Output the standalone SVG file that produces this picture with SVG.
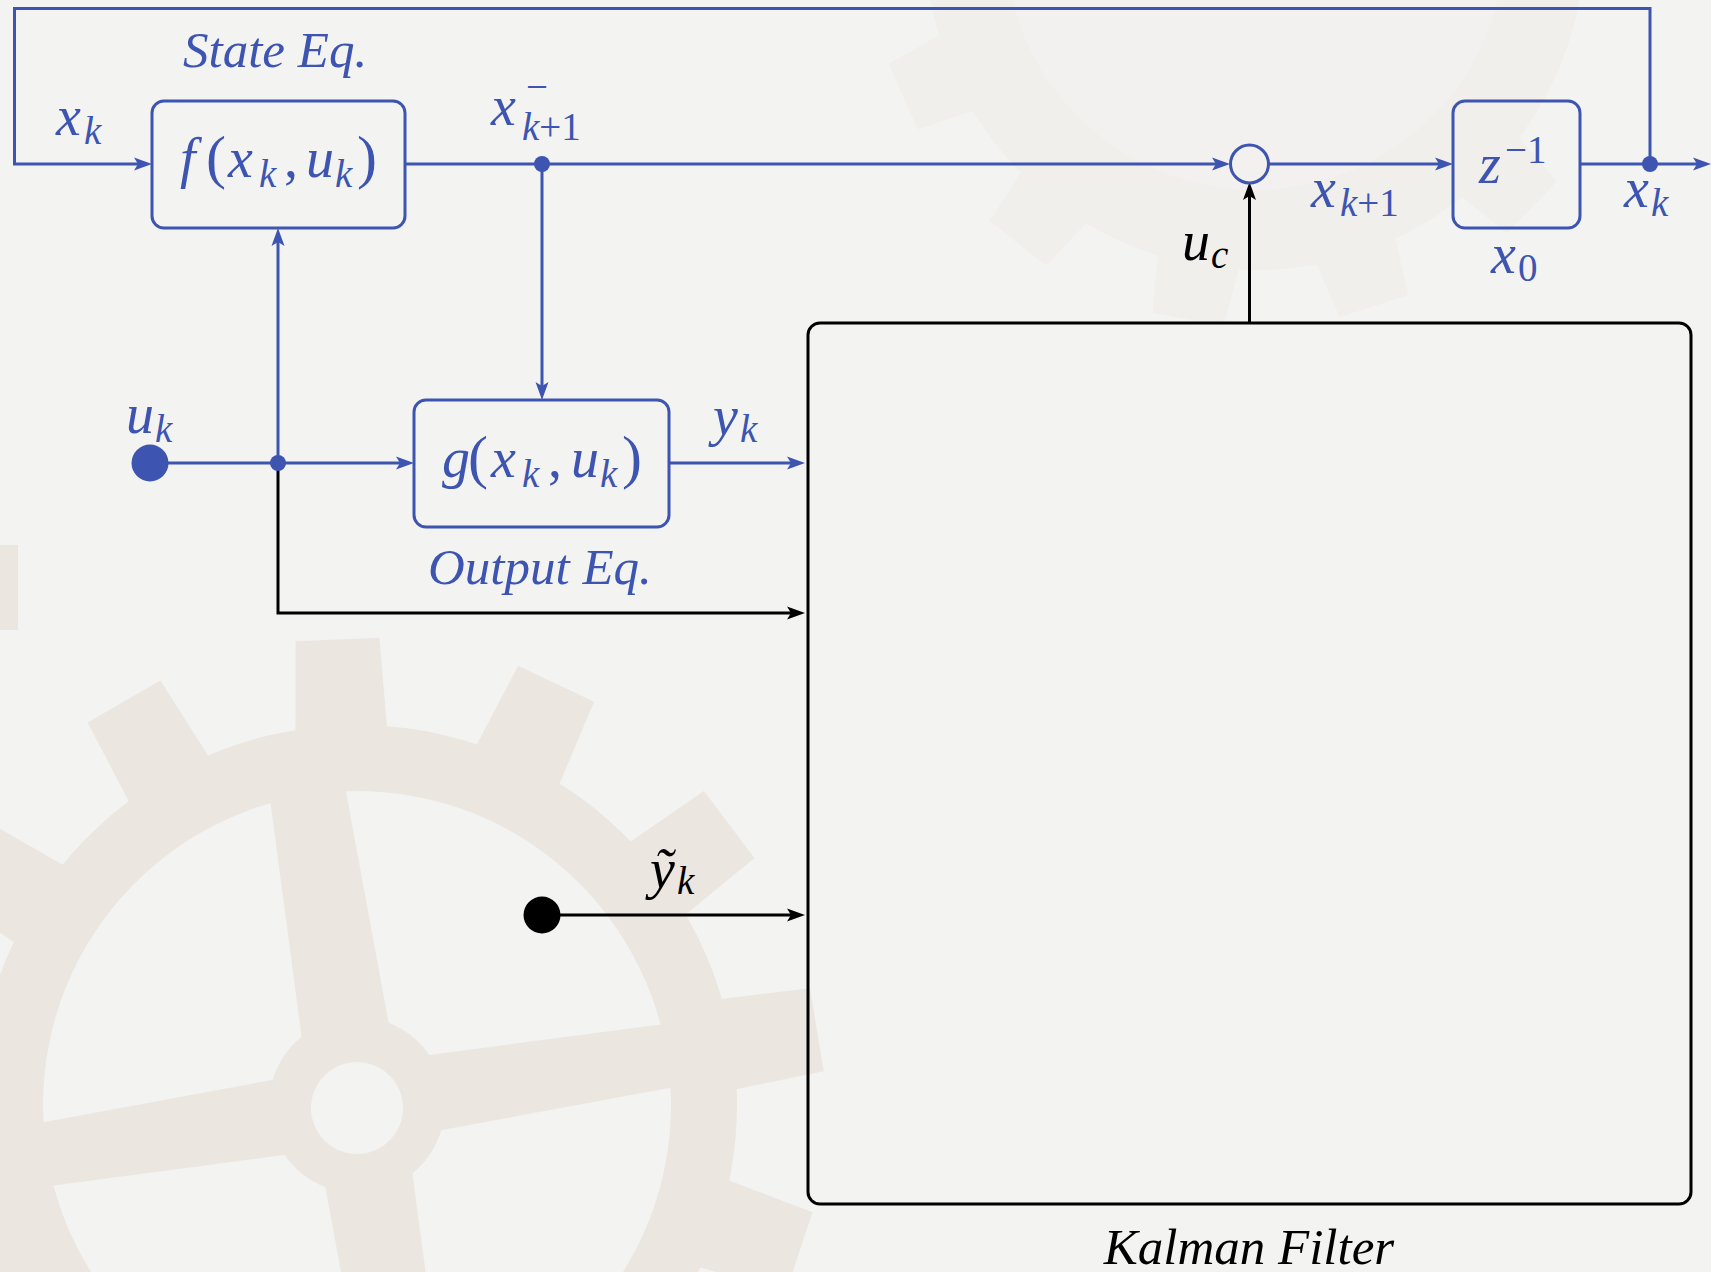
<svg xmlns="http://www.w3.org/2000/svg" width="1711" height="1272" viewBox="0 0 1711 1272">
<style>
.bl{stroke:#3d55b0;stroke-width:3;fill:none}
.bk{stroke:#000;stroke-width:3;fill:none}
.box{stroke:#3d55b0;stroke-width:3;fill:none}
.m{font-family:"Liberation Serif","DejaVu Serif",serif;font-style:italic;font-size:56px;fill:#3d55b0}
.mk{fill:#000}
.up{font-style:normal}
.sub{font-size:39px}
.par{font-style:normal;font-size:60px}
.lbl{font-family:"Liberation Serif","DejaVu Serif",serif;font-style:italic;font-size:51px;fill:#3d55b0}
.gear{fill:#ebe7e0}
.gear2{fill:#f0efeb}
</style>
<defs>
<marker id="ab" markerUnits="userSpaceOnUse" markerWidth="24" markerHeight="16" viewBox="-12 -8 24 16" refX="0" refY="0" orient="auto" overflow="visible"><path d="M9,0 L-9,-6.5 L-5,0 L-9,6.5 Z" fill="#3d55b0"/></marker>
<marker id="ak" markerUnits="userSpaceOnUse" markerWidth="24" markerHeight="16" viewBox="-12 -8 24 16" refX="0" refY="0" orient="auto" overflow="visible"><path d="M9,0 L-9,-6.5 L-5,0 L-9,6.5 Z" fill="#000"/></marker>
<polygon id="tooth" points="-46,-372 -42,-466 42,-466 46,-372"/>
<polygon id="tooth2" points="-42,-320 -36,-385 36,-385 42,-320"/>
</defs>
<rect x="0" y="0" width="1711" height="1272" fill="#f3f3f2"/>
<g id="watermark">
<g class="gear" transform="translate(357,1105) rotate(-9)">
<path d="M0,-380 A380,380 0 1,1 0,380 A380,380 0 1,1 0,-380 Z M0,-314 A314,314 0 1,0 0,314 A314,314 0 1,0 0,-314 Z" fill-rule="evenodd"/>
<path d="M-38,-318 L38,-318 L46,0 L38,318 L-38,318 L-46,0 Z"/>
<path d="M-318,-32 L-318,32 L0,40 L318,32 L318,-32 L0,-40 Z"/>
<circle cx="0" cy="0" r="88"/>
<use href="#tooth" transform="rotate(6.6)"/>
<use href="#tooth" transform="rotate(34.3)"/>
<use href="#tooth" transform="rotate(62)"/>
<use href="#tooth" transform="rotate(89.7)"/>
<use href="#tooth" transform="rotate(117.4)"/>
<use href="#tooth" transform="rotate(145.1)"/>
<use href="#tooth" transform="rotate(172.8)"/>
<use href="#tooth" transform="rotate(200.5)"/>
<use href="#tooth" transform="rotate(228.2)"/>
<use href="#tooth" transform="rotate(255.9)"/>
<use href="#tooth" transform="rotate(283.6)"/>
<use href="#tooth" transform="rotate(311.3)"/>
<use href="#tooth" transform="rotate(339)"/>
</g>
<circle cx="357" cy="1108" r="46" fill="#f3f3f2"/>
<rect x="0" y="545" width="18" height="85" class="gear"/>
<g class="gear2" transform="translate(1255,-60) rotate(10)">
<circle cx="0" cy="0" r="330"/>
<use href="#tooth2" transform="rotate(180)"/>
<use href="#tooth2" transform="rotate(152)"/>
<use href="#tooth2" transform="rotate(208)"/>
<use href="#tooth2" transform="rotate(236)"/>
<use href="#tooth2" transform="rotate(124)"/>
</g>
<circle cx="1255" cy="-60" r="250" fill="#f2f1ef"/>
</g>
<g id="connectors">
<path class="bl" d="M1650,164 V8.5 H14.5 V164 H143" marker-end="url(#ab)"/>
<path class="bl" d="M405,164 H1221" marker-end="url(#ab)"/>
<path class="bl" d="M542,164 V391" marker-end="url(#ab)"/>
<path class="bl" d="M1268.5,164 H1444" marker-end="url(#ab)"/>
<path class="bl" d="M1580,164 H1702" marker-end="url(#ab)"/>
<path class="bl" d="M150,463 H405" marker-end="url(#ab)"/>
<path class="bl" d="M278,463 V237" marker-end="url(#ab)"/>
<path class="bl" d="M669,463 H796" marker-end="url(#ab)"/>
<path class="bk" d="M278,463 V613 H796" marker-end="url(#ak)"/>
<path class="bk" d="M542,915 H796" marker-end="url(#ak)"/>
<path class="bk" d="M1249.5,323 V191" marker-end="url(#ak)"/>
<circle cx="542" cy="164" r="8" fill="#3d55b0"/>
<circle cx="278" cy="463" r="8" fill="#3d55b0"/>
<circle cx="1650" cy="164" r="8" fill="#3d55b0"/>
</g>
<g id="state-eq">
<rect class="box" x="152" y="101" width="253" height="127" rx="12"/>
<text class="m" y="177"><tspan x="180">f</tspan><tspan class="par" x="206">(</tspan><tspan x="228">x</tspan><tspan class="sub" x="259" y="187">k</tspan><tspan class="up" x="284" y="177">,</tspan><tspan x="306">u</tspan><tspan class="sub" x="335" y="187">k</tspan><tspan class="par" x="357" y="177">)</tspan></text>
<text class="lbl" x="183" y="67">State Eq.</text>
</g>
<g id="output-eq">
<rect class="box" x="414" y="400" width="255" height="127" rx="12"/>
<text class="m" y="477"><tspan x="442">g</tspan><tspan class="par" x="468">(</tspan><tspan x="491">x</tspan><tspan class="sub" x="522" y="487">k</tspan><tspan class="up" x="548" y="477">,</tspan><tspan x="571">u</tspan><tspan class="sub" x="600" y="487">k</tspan><tspan class="par" x="622" y="477">)</tspan></text>
<text class="lbl" x="428" y="584">Output Eq.</text>
</g>
<g id="sum">
<circle cx="1249.5" cy="164" r="19" class="bl"/>
</g>
<g id="delay">
<rect class="box" x="1453" y="101" width="127" height="127" rx="12"/>
<text class="m" y="183"><tspan x="1479">z</tspan><tspan class="up sub" x="1505" y="163">−1</tspan></text>
<text class="m" y="273"><tspan x="1491">x</tspan><tspan class="up sub" x="1518" y="281">0</tspan></text>
</g>
<g id="input-u">
<circle cx="150" cy="463" r="18.5" fill="#3d55b0"/>
<text class="m" y="433"><tspan x="126">u</tspan><tspan class="sub" x="155" y="442">k</tspan></text>
</g>
<g id="input-ytilde">
<circle cx="542" cy="915" r="18.5" fill="#000"/>
<text class="m mk" y="888"><tspan x="650">ỹ</tspan><tspan class="sub" x="677" y="894">k</tspan></text>
</g>
<g id="kalman-filter">
<rect x="808" y="323" width="883" height="881" rx="12" class="bk"/>
<text x="1249" y="1264" text-anchor="middle" style="font-family:'Liberation Serif','DejaVu Serif',serif;font-style:italic;font-size:51px;fill:#000">Kalman Filter</text>
</g>
<g id="labels">
<text class="m" y="135"><tspan x="56">x</tspan><tspan class="sub" x="84" y="144">k</tspan></text>
<text class="m" y="125"><tspan x="491">x</tspan><tspan class="up sub" x="526" y="100">−</tspan><tspan class="sub" x="522" y="140">k</tspan><tspan class="up sub">+1</tspan></text>
<text class="m" y="207"><tspan x="1311">x</tspan><tspan class="sub" x="1340" y="216">k</tspan><tspan class="up sub">+1</tspan></text>
<text class="m" y="207"><tspan x="1624">x</tspan><tspan class="sub" x="1651" y="216">k</tspan></text>
<text class="m mk" y="260"><tspan x="1182">u</tspan><tspan class="sub" x="1211" y="268">c</tspan></text>
<text class="m" y="435"><tspan x="713">y</tspan><tspan class="sub" x="740" y="442">k</tspan></text>
</g>
</svg>
